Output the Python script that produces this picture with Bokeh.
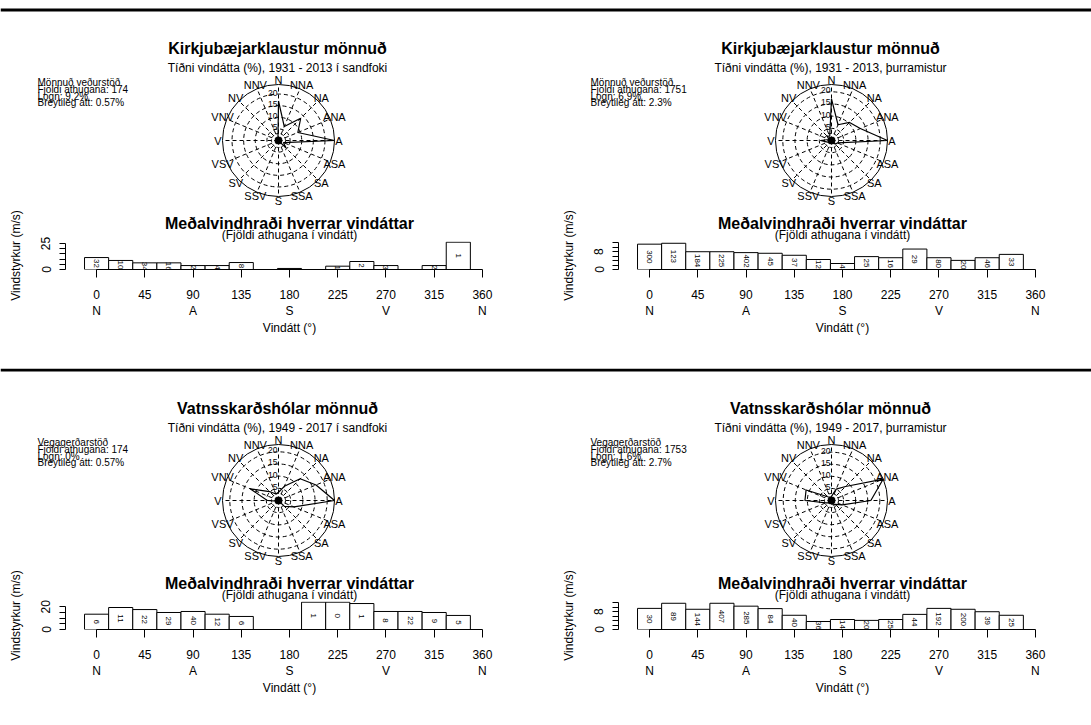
import numpy as np
from bokeh.plotting import figure
from bokeh.layouts import column, row
from bokeh.models import Range1d, FixedTicker, Span, Title
from bokeh.embed import file_html
from bokeh.resources import INLINE
from bokeh.core.properties import value

FONT = "Liberation Sans"

# ---------------- data ----------------
directions = [0, 22.5, 45, 67.5, 90, 112.5, 135, 157.5, 180, 202.5, 225, 247.5, 270, 292.5, 315, 337.5]
compass = ["N", "NNA", "NA", "ANA", "A", "ASA", "SA", "SSA", "S", "SSV", "SV", "VSV", "V", "VNV", "NV", "NNV"]
ring_values = [5, 10, 15, 20]
x_ticks = [0, 45, 90, 135, 180, 225, 270, 315, 360]
x_letters = {0: "N", 90: "A", 180: "S", 270: "V", 360: "N"}

bar_title = "Meðalvindhraði hverrar vindáttar"
bar_subtitle = "(Fjöldi athugana í vindátt)"
x_label = "Vindátt (°)"
y_label = "Vindstyrkur (m/s)"

# top-left: Kirkjubæjarklaustur, sandfok
tl_title = "Kirkjubæjarklaustur mönnuð"
tl_subtitle = "Tíðni vindátta (%), 1931 - 2013 í sandfoki"
tl_info = ["Mönnuð veðurstöð", "Fjöldi athugana: 174", "Logn: 9.2%", "Breytileg átt: 0.57%"]
tl_freq = [17.0, 6.5, 13.5, 9.0, 24.1, 2.3, 4.6, 0.0, 1.1, 0.0, 0.6, 1.1, 1.7, 0.0, 1.1, 0.6]
tl_speed = [11.5, 8.7, 6.4, 6.4, 3.8, 3.8, 6.7, np.nan, 1.0, np.nan, 3.2, 7.7, 3.8, np.nan, 3.8, 26.3]
tl_counts = ["32", "10", "34", "16", "2", "4", "8", "", "", "", "1", "2", "3", "", "2", "1"]
tl_yticks = [0, 5, 10, 15, 20, 25]
tl_yshown = [0, 25]

# top-right: Kirkjubæjarklaustur, þurramistur
tr_title = "Kirkjubæjarklaustur mönnuð"
tr_subtitle = "Tíðni vindátta (%), 1931 - 2013, þurramistur"
tr_info = ["Mönnuð veðurstöð", "Fjöldi athugana: 1751", "Logn: 6.9%", "Breytileg átt: 2.3%"]
tr_freq = [17.1, 7.0, 10.5, 12.8, 23.0, 2.6, 2.1, 0.7, 0.2, 1.4, 0.9, 1.7, 4.6, 1.1, 2.6, 1.9]
tr_speed = [11.4, 11.8, 8.0, 8.0, 7.6, 7.3, 6.4, 4.5, 2.7, 5.8, 5.3, 9.2, 5.3, 4.1, 5.3, 6.8]
tr_counts = ["300", "123", "184", "225", "402", "45", "37", "12", "4", "25", "16", "29", "80", "20", "46", "33"]
tr_yticks = [0, 2, 4, 6, 8, 10, 12]
tr_yshown = [0, 8]

# bottom-left: Vatnsskarðshólar, sandfok
bl_title = "Vatnsskarðshólar mönnuð"
bl_subtitle = "Tíðni vindátta (%), 1949 - 2017 í sandfoki"
bl_info = ["Vegagerðarstöð", "Fjöldi athugana: 174", "Logn: 0%", "Breytileg átt: 0.57%"]
bl_freq = [3.4, 6.3, 12.6, 16.7, 23.0, 6.9, 3.4, 0.0, 0.0, 0.6, 0.6, 0.6, 4.6, 12.6, 5.2, 2.9]
bl_speed = [13.5, 19.4, 17.6, 15.0, 15.9, 13.5, 11.5, np.nan, np.nan, 24.1, 24.1, 22.9, 15.9, 15.9, 15.0, 12.4]
bl_counts = ["6", "11", "22", "29", "40", "12", "6", "", "", "1", "0", "1", "8", "22", "9", "5"]
bl_yticks = [0, 5, 10, 15, 20]
bl_yshown = [0, 20]

# bottom-right: Vatnsskarðshólar, þurramistur
br_title = "Vatnsskarðshólar mönnuð"
br_subtitle = "Tíðni vindátta (%), 1949 - 2017, þurramistur"
br_info = ["Vegagerðarstöð", "Fjöldi athugana: 1753", "Logn: 1.6%", "Breytileg átt: 2.7%"]
br_freq = [1.7, 5.1, 8.2, 23.2, 16.3, 4.8, 2.3, 2.1, 0.8, 1.1, 1.4, 2.5, 11.0, 11.4, 2.2, 1.4]
br_speed = [9.5, 11.8, 9.1, 11.8, 10.5, 9.4, 6.4, 3.6, 4.5, 4.1, 4.5, 6.8, 9.5, 9.1, 8.0, 6.4]
br_counts = ["30", "89", "144", "407", "285", "84", "40", "36", "14", "20", "25", "44", "192", "200", "39", "25"]
br_yticks = [0, 2, 4, 6, 8, 10, 12]
br_yshown = [0, 8]

# ---------------- layout constants (pixels) ----------------
TOTAL_W = 1091
LEFT_W, RIGHT_W = 553, 538
RIGHT_DX = 553
ROSE_H_TOP, ROSE_H_BOT = 206, 198
BAR_H_TOP, BAR_H_BOT = 162, 158
R_OUT = 56.0          # outer circle radius, px
R_LAB = 60.5          # compass label radius, px
CX, CY = 278, 140     # rose centre in panel pixels (top panel)
FRAME_L = 65
FRAME_W = 448
FRAME_TOP = 35
FRAME_H = 28


def rose_row(H, oy, panels):
    """One canvas holding the two wind roses of a row; data units = pixels (y downwards)."""
    p = figure(width=TOTAL_W, height=H, x_range=Range1d(0, TOTAL_W), y_range=Range1d(H, 0),
               toolbar_location=None, output_backend="svg", min_border=0,
               x_axis_location=None, y_axis_location=None, outline_line_color=None)
    p.grid.visible = False
    p.add_layout(Span(location=9.5 + oy, dimension="width", line_width=3, line_color="black"))

    th = np.radians(directions)
    sx, sy = np.sin(th), np.cos(th)
    for dx, title, subtitle, info, freq in panels:
        M = max(freq)
        s = R_OUT / M
        cx, cy = CX + dx, CY + oy

        p.text(x=[277 + dx], y=[48 + oy], text=[title], text_font=value(FONT),
               text_font_size="16px", text_font_style="bold", text_align="center",
               text_baseline="middle", text_color="black")
        p.text(x=[277 + dx], y=[67.5 + oy], text=[subtitle], text_font=value(FONT),
               text_font_size="12px", text_align="center", text_baseline="middle",
               text_color="black")
        iy = [82, 89, 95.5, 102]
        p.text(x=[37 + dx] * 4, y=[v + oy for v in iy], text=info, text_font=value(FONT),
               text_font_size="10px", text_align="left", text_baseline="middle",
               text_color="black")

        rings = [r for r in ring_values if r < M]
        p.circle(x=[cx] * len(rings), y=[cy] * len(rings), radius=[r * s for r in rings],
                 fill_color=None, line_color="black", line_dash="4 3", line_width=1)
        p.circle(x=[cx], y=[cy], radius=[7.0], fill_color=None, line_color="black",
                 line_dash="3 2", line_width=1)
        p.segment(x0=[cx] * 16, y0=[cy] * 16, x1=cx + M * s * sx, y1=cy - M * s * sy,
                  line_color="black", line_dash="4 3", line_width=1)
        p.circle(x=[cx], y=[cy], radius=[M * s], fill_color=None, line_color="black",
                 line_width=1)

        f = np.array(freq)
        px_ = cx + s * np.append(f * sx, f[0] * sx[0])
        py_ = cy - s * np.append(f * sy, f[0] * sy[0])
        p.line(px_, py_, line_color="black", line_width=1.2)
        p.scatter(x=[cx], y=[cy], size=7, color="black")

        p.text(x=[cx - 1.0] * len(rings), y=[cy - r * s - 1.5 for r in rings],
               text=[str(r) for r in rings], text_font=value(FONT), text_font_size="8.5px",
               text_align="right", text_baseline="middle", text_color="black")
        p.text(x=cx + R_LAB * sx, y=cy - R_LAB * sy, text=compass, text_font=value(FONT),
               text_font_size="11px", text_align="center", text_baseline="middle",
               text_color="black")
    return p


def bar_fig(W, H, speed, counts, yticks, yshown):
    ymax = np.nanmax(speed)
    yend = max(ymax * 1.025, max(yticks) * 1.05)
    p = figure(width=W, height=H, x_range=Range1d(-29, 389), y_range=Range1d(0, yend),
               toolbar_location=None, output_backend="svg",
               min_border_left=FRAME_L, min_border_right=W - FRAME_L - FRAME_W,
               min_border_top=FRAME_TOP, min_border_bottom=H - FRAME_TOP - FRAME_H,
               outline_line_color=None)
    p.grid.visible = False
    d = np.array(directions)
    sp = np.array(speed, dtype=float)
    ok = ~np.isnan(sp)
    p.quad(left=(d - 11.25)[ok], right=(d + 11.25)[ok], bottom=0, top=sp[ok],
           fill_color="white", line_color="black", line_width=1)
    mid = np.where(ok, sp / 2, 0)
    p.text(x=d[ok], y=mid[ok], text=[c for c, o in zip(counts, ok) if o], angle=-np.pi / 2,
           text_font=value(FONT), text_font_size="8px", text_align="center",
           text_baseline="middle", text_color="black")

    # titles stacked above the frame (first added = closest to frame)
    p.add_layout(Title(text=bar_subtitle, align="center", text_font=FONT, text_font_size="12px",
                       text_font_style="normal", text_color="black", standoff=0), "above")
    p.add_layout(Title(text=bar_title, align="center", text_font=FONT, text_font_size="16px",
                       text_font_style="bold", text_color="black", standoff=-12), "above")

    xa = p.xaxis[0]
    xa.ticker = FixedTicker(ticks=x_ticks)
    xa.major_label_overrides = {t: (f"{t}\n{x_letters[t]}" if t in x_letters else str(t)) for t in x_ticks}
    xa.bounds = (0, 360)
    xa.axis_label = x_label
    xa.axis_label_text_font = FONT
    xa.axis_label_text_font_size = "12px"
    xa.axis_label_text_font_style = "normal"
    xa.axis_label_standoff = 0
    xa.major_label_text_font = FONT
    xa.major_label_text_font_size = "12px"
    xa.major_label_standoff = 10
    xa.major_tick_out = 8
    xa.major_tick_in = 0
    xa.minor_tick_line_color = None
    xa.axis_line_color = "black"
    xa.major_tick_line_color = "black"
    xa.major_label_text_color = "black"
    xa.axis_label_text_color = "black"

    ya = p.yaxis[0]
    ya.ticker = FixedTicker(ticks=yticks)
    ya.major_label_overrides = {t: (str(t) if t in yshown else "") for t in yticks}
    ya.bounds = (0, max(yticks))
    ya.major_label_orientation = "vertical"
    ya.axis_label = y_label
    ya.axis_label_text_font = FONT
    ya.axis_label_text_font_size = "12px"
    ya.axis_label_text_font_style = "normal"
    ya.axis_label_standoff = 16
    ya.major_label_text_font = FONT
    ya.major_label_text_font_size = "12px"
    ya.major_label_standoff = 9
    ya.major_tick_out = 6
    ya.major_tick_in = 0
    ya.minor_tick_line_color = None
    ya.axis_line_color = "black"
    ya.major_tick_line_color = "black"
    ya.major_label_text_color = "black"
    ya.axis_label_text_color = "black"
    return p


rose_top = rose_row(ROSE_H_TOP, 0, [(0, tl_title, tl_subtitle, tl_info, tl_freq),
                                    (RIGHT_DX, tr_title, tr_subtitle, tr_info, tr_freq)])
rose_bot = rose_row(ROSE_H_BOT, -8, [(0, bl_title, bl_subtitle, bl_info, bl_freq),
                                     (RIGHT_DX, br_title, br_subtitle, br_info, br_freq)])
bar_tl = bar_fig(LEFT_W, BAR_H_TOP, tl_speed, tl_counts, tl_yticks, tl_yshown)
bar_tr = bar_fig(RIGHT_W, BAR_H_TOP, tr_speed, tr_counts, tr_yticks, tr_yshown)
bar_bl = bar_fig(LEFT_W, BAR_H_BOT, bl_speed, bl_counts, bl_yticks, bl_yshown)
bar_br = bar_fig(RIGHT_W, BAR_H_BOT, br_speed, br_counts, br_yticks, br_yshown)

layout = column(rose_top, row(bar_tl, bar_tr), rose_bot, row(bar_bl, bar_br))
open("out.html", "w").write(file_html(layout, INLINE))
